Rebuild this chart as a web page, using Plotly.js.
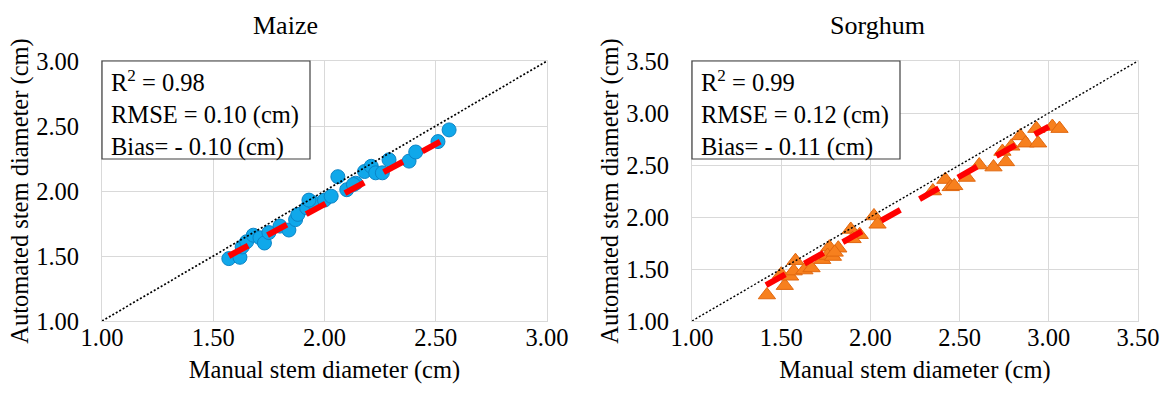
<!DOCTYPE html>
<html>
<head>
<meta charset="utf-8">
<script src="https://cdn.plot.ly/plotly-3.0.1.min.js"></script>
<style>html,body{margin:0;padding:0;background:#fff;}#chart{width:1163px;height:394px;}</style>
</head>
<body>
<div id="chart"></div>
<script>
// ---- Data ----
const maizeManual = [1.57,1.62,1.63,1.65,1.68,1.71,1.73,1.75,1.80,1.84,1.87,1.88,1.92,1.95,1.93,2.00,2.03,2.06,2.10,2.14,2.13,2.18,2.21,2.23,2.26,2.29,2.38,2.41,2.51,2.56];
const maizeAuto   = [1.48,1.49,1.57,1.61,1.66,1.64,1.60,1.68,1.73,1.70,1.78,1.82,1.87,1.91,1.93,1.93,1.96,2.11,2.01,2.06,2.05,2.15,2.19,2.14,2.14,2.24,2.23,2.30,2.38,2.47];
const maizeTrendX = [1.57, 2.52];
const maizeTrendY = [1.50, 2.38];

const sorghumManual = [1.42,1.52,1.50,1.55,1.58,1.57,1.63,1.67,1.73,1.77,1.76,1.79,1.82,1.80,1.89,1.94,1.90,2.02,2.04,2.35,2.42,2.45,2.47,2.54,2.61,2.69,2.74,2.76,2.79,2.84,2.87,2.93,2.94,3.02,3.06];
const sorghumAuto   = [1.25,1.34,1.45,1.43,1.58,1.48,1.49,1.51,1.59,1.71,1.63,1.62,1.70,1.66,1.88,1.83,1.79,2.01,1.93,2.25,2.36,2.29,2.30,2.38,2.50,2.48,2.63,2.53,2.68,2.78,2.71,2.85,2.71,2.87,2.85];
const sorghumTrendX = [1.415, 3.00];
const sorghumTrendY = [1.345, 2.87];

const maizeLine = [1.00, 3.00];
const sorghumLine = [1.00, 3.50];

const titles = ['Maize', 'Sorghum'];
const xTitle = 'Manual stem diameter (cm)';
const yTitle = 'Automated stem diameter (cm)';
const maizeStats = ['R<sup>2</sup> = 0.98', 'RMSE = 0.10 (cm)', 'Bias= - 0.10 (cm)'];
const sorghumStats = ['R<sup>2</sup> = 0.99', 'RMSE = 0.12 (cm)', 'Bias= - 0.11 (cm)'];

// ---- Styling ----
const FONT = 'Times New Roman, Liberation Serif, serif';
const W = 1163, H = 394;
const px = (a, b) => [a / W, b / W];
const py = (top, bottom) => [1 - bottom / H, 1 - top / H];

const traces = [
  {x: maizeManual, y: maizeAuto, xaxis: 'x', yaxis: 'y', mode: 'markers', type: 'scatter',
   marker: {symbol: 'circle', size: 14, color: '#10A8EA', line: {color: '#0B84C6', width: 1}}},
  {x: maizeLine, y: maizeLine, xaxis: 'x', yaxis: 'y', mode: 'lines', type: 'scatter',
   line: {color: '#000', width: 1.7, dash: '2px,2px'}},
  {x: maizeTrendX, y: maizeTrendY, xaxis: 'x', yaxis: 'y', mode: 'lines', type: 'scatter',
   line: {color: '#FF0000', width: 6, dash: '22px,22px'}},
  {x: sorghumManual, y: sorghumAuto, xaxis: 'x2', yaxis: 'y2', mode: 'markers', type: 'scatter',
   marker: {symbol: 'triangle-up', size: 15, color: '#F7801E', line: {color: '#E0670F', width: 1}}},
  {x: sorghumLine, y: sorghumLine, xaxis: 'x2', yaxis: 'y2', mode: 'lines', type: 'scatter',
   line: {color: '#000', width: 1.4, dash: '2px,2px'}},
  {x: sorghumTrendX, y: sorghumTrendY, xaxis: 'x2', yaxis: 'y2', mode: 'lines', type: 'scatter',
   line: {color: '#FF0000', width: 6, dash: '22px,22px'}}
];

function axisBase(range, domain, title) {
  return {
    range: range, domain: domain, dtick: 0.5, tick0: 1, tickformat: '.2f',
    showgrid: true, gridcolor: '#D9D9D9', gridwidth: 1,
    showline: true, linecolor: '#D9D9D9', linewidth: 1, mirror: true,
    zeroline: false, ticks: '', automargin: false, fixedrange: true,
    tickfont: {family: FONT, size: 24.5, color: '#000'},
    title: {text: title, font: {family: FONT, size: 24.5, color: '#000'}}
  };
}

const xa1 = axisBase([1, 3], px(102, 547), xTitle); xa1.anchor = 'y'; xa1.ticklabelstandoff = -5; xa1.title.standoff = 10;
const ya1 = axisBase([1, 3], py(61, 321), yTitle);  ya1.anchor = 'x'; ya1.ticklabelstandoff = 17; ya1.title.standoff = 0;
const xa2 = axisBase([1, 3.5], px(692, 1138), xTitle); xa2.anchor = 'y2'; xa2.ticklabelstandoff = -5; xa2.title.standoff = 10;
const ya2 = axisBase([1, 3.5], py(61, 321), yTitle);  ya2.anchor = 'x2'; ya2.ticklabelstandoff = 17; ya2.title.standoff = 0;

const shapes = [
  {type: 'rect', xref: 'x domain', yref: 'y domain', x0: 0, x1: 208/445, y0: (321-159)/260, y1: 1,
   line: {color: '#404040', width: 1.2}, fillcolor: '#fff', layer: 'above'},
  {type: 'rect', xref: 'x2 domain', yref: 'y2 domain', x0: 0, x1: 208/446, y0: (321-159)/260, y1: 1,
   line: {color: '#404040', width: 1.2}, fillcolor: '#fff', layer: 'above'}
];

const annotations = [
  {text: titles[0], xref: 'paper', yref: 'paper', x: 285/W, y: 1 - 25/H, xanchor: 'center', yanchor: 'middle',
   showarrow: false, font: {family: FONT, size: 26, color: '#000'}},
  {text: titles[1], xref: 'paper', yref: 'paper', x: 877/W, y: 1 - 25/H, xanchor: 'center', yanchor: 'middle',
   showarrow: false, font: {family: FONT, size: 26, color: '#000'}},
  {text: maizeStats.join('<br>'), xref: 'x domain', yref: 'y domain', x: 8/445, y: (321-65)/260,
   xanchor: 'left', yanchor: 'top', align: 'left', showarrow: false, borderpad: 0,
   font: {family: FONT, size: 24.5, color: '#000'}},
  {text: sorghumStats.join('<br>'), xref: 'x2 domain', yref: 'y2 domain', x: 8/446, y: (321-65)/260,
   xanchor: 'left', yanchor: 'top', align: 'left', showarrow: false, borderpad: 0,
   font: {family: FONT, size: 24.5, color: '#000'}}
];

const layout = {
  width: W, height: H, margin: {l: 0, r: 0, t: 0, b: 0},
  paper_bgcolor: '#fff', plot_bgcolor: '#fff', showlegend: false,
  font: {family: FONT, color: '#000'},
  xaxis: xa1, yaxis: ya1, xaxis2: xa2, yaxis2: ya2,
  shapes: shapes, annotations: annotations
};

Plotly.newPlot('chart', traces, layout, {displayModeBar: false, staticPlot: true});
</script>
</body>
</html>
